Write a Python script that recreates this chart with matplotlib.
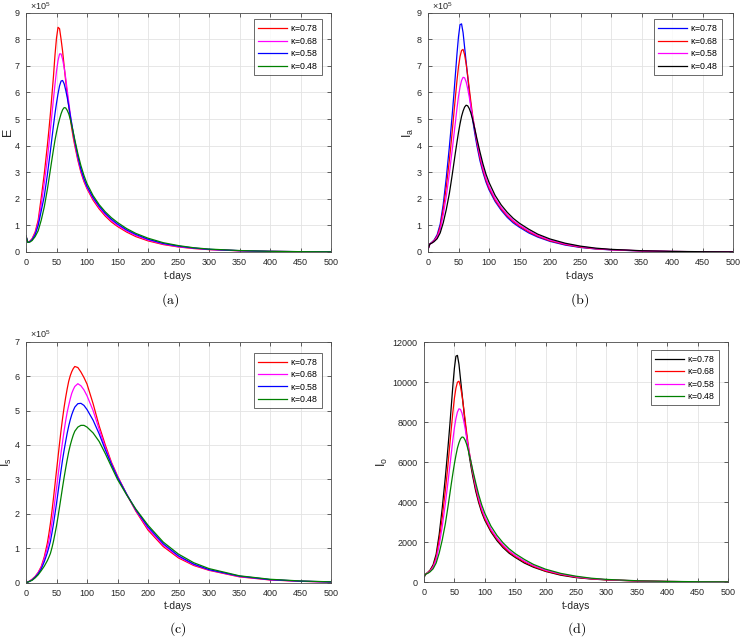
import matplotlib
matplotlib.use('Agg')
import matplotlib.pyplot as plt
import numpy as np

plt.rcParams['font.family'] = ['Liberation Sans', 'DejaVu Sans']
plt.rcParams['mathtext.default'] = 'regular'

# time points (days)
t = [0, 3, 6, 10, 15, 20, 25, 30,
     35, 37.5, 40, 42.5, 45, 47.5, 50, 52.5, 55, 57.5, 60, 62.5, 65, 67.5, 70, 72.5, 75, 77.5, 80,
     85, 90, 95, 100, 110, 120, 130, 140, 150, 165, 180, 200, 225, 250, 275, 300, 350, 400, 450, 500]

kappa_labels = [r'$\kappa$=0.78', r'$\kappa$=0.68', r'$\kappa$=0.58', r'$\kappa$=0.48']

# (a) E, in units of 1e5
E_078 = [0.6, 0.36, 0.4, 0.5, 0.75, 1.2, 2.05, 2.95,
         4.0, 4.58, 5.2, 5.9, 6.6, 7.4, 8.05, 8.45, 8.4, 8.0, 7.55, 7.0, 6.45, 5.95, 5.5, 5.05, 4.65, 4.3, 4.0,
         3.45, 3.0, 2.65, 2.38, 1.95, 1.62, 1.35, 1.13, 0.96, 0.75, 0.58, 0.42, 0.28, 0.19, 0.13, 0.09, 0.045, 0.022, 0.011, 0.005]
E_068 = [0.6, 0.36, 0.39, 0.48, 0.7, 1.1, 1.8, 2.6,
         3.5, 4.03, 4.6, 5.18, 5.75, 6.3, 6.8, 7.2, 7.45, 7.45, 7.25, 6.95, 6.55, 6.1, 5.65, 5.2, 4.8, 4.43, 4.1,
         3.52, 3.05, 2.7, 2.42, 2.0, 1.67, 1.4, 1.18, 1.0, 0.79, 0.62, 0.45, 0.3, 0.2, 0.14, 0.095, 0.048, 0.023, 0.011, 0.005]
E_058 = [0.6, 0.36, 0.38, 0.46, 0.65, 1.0, 1.55, 2.1,
         2.9, 3.35, 3.8, 4.28, 4.75, 5.2, 5.6, 5.95, 6.25, 6.43, 6.45, 6.33, 6.1, 5.82, 5.5, 5.15, 4.82, 4.48, 4.17,
         3.6, 3.12, 2.76, 2.47, 2.05, 1.72, 1.45, 1.23, 1.05, 0.83, 0.66, 0.48, 0.32, 0.22, 0.15, 0.1, 0.05, 0.025, 0.012, 0.006]
E_048 = [0.6, 0.36, 0.37, 0.43, 0.58, 0.8, 1.2, 1.7,
         2.35, 2.72, 3.1, 3.48, 3.85, 4.2, 4.5, 4.77, 5.0, 5.2, 5.35, 5.43, 5.42, 5.33, 5.2, 5.0, 4.75, 4.5, 4.22,
         3.7, 3.25, 2.88, 2.57, 2.12, 1.78, 1.51, 1.29, 1.11, 0.88, 0.7, 0.52, 0.35, 0.24, 0.16, 0.11, 0.055, 0.027, 0.013, 0.006]

# (b) Ia, in units of 1e5
Ia_078 = [0.1, 0.3, 0.36, 0.45, 0.65, 1.05, 1.8, 2.8,
          3.95, 4.58, 5.25, 5.95, 6.7, 7.45, 8.1, 8.55, 8.58, 8.25, 7.7, 7.15, 6.6, 6.05, 5.55, 5.1, 4.7, 4.35, 4.02,
          3.45, 3.0, 2.63, 2.34, 1.9, 1.57, 1.3, 1.09, 0.93, 0.72, 0.56, 0.4, 0.26, 0.17, 0.115, 0.08, 0.038, 0.018, 0.009, 0.004]
Ia_068 = [0.1, 0.3, 0.35, 0.43, 0.6, 0.95, 1.6, 2.45,
          3.45, 4.0, 4.6, 5.23, 5.85, 6.45, 6.97, 7.35, 7.58, 7.62, 7.42, 7.08, 6.65, 6.17, 5.7, 5.25, 4.85, 4.48, 4.15,
          3.55, 3.08, 2.7, 2.4, 1.95, 1.62, 1.35, 1.14, 0.97, 0.76, 0.59, 0.42, 0.28, 0.18, 0.12, 0.085, 0.04, 0.019, 0.009, 0.004]
Ia_058 = [0.1, 0.3, 0.34, 0.41, 0.56, 0.85, 1.4, 2.1,
          2.95, 3.42, 3.9, 4.4, 4.9, 5.4, 5.85, 6.2, 6.45, 6.57, 6.55, 6.4, 6.15, 5.85, 5.5, 5.17, 4.85, 4.53, 4.22,
          3.65, 3.17, 2.78, 2.47, 2.01, 1.67, 1.4, 1.18, 1.01, 0.8, 0.62, 0.45, 0.3, 0.2, 0.13, 0.09, 0.043, 0.02, 0.01, 0.005]
Ia_048 = [0.1, 0.3, 0.33, 0.39, 0.5, 0.72, 1.1, 1.6,
          2.2, 2.57, 2.95, 3.35, 3.75, 4.13, 4.5, 4.82, 5.1, 5.3, 5.45, 5.52, 5.5, 5.4, 5.25, 5.04, 4.8, 4.55, 4.28,
          3.78, 3.32, 2.93, 2.62, 2.13, 1.77, 1.49, 1.26, 1.08, 0.86, 0.67, 0.49, 0.33, 0.22, 0.145, 0.1, 0.048, 0.023, 0.011, 0.005]

# (c) Is, in units of 1e5
Is_078 = [0, 0.02, 0.05, 0.1, 0.18, 0.3, 0.47, 0.75,
          1.15, 1.42, 1.72, 2.07, 2.45, 2.85, 3.25, 3.65, 4.05, 4.43, 4.78, 5.1, 5.38, 5.63, 5.85, 6.01, 6.13, 6.22, 6.28,
          6.25, 6.12, 5.96, 5.77, 5.2, 4.55, 4.0, 3.5, 3.1, 2.57, 2.08, 1.53, 1.05, 0.72, 0.5, 0.36, 0.17, 0.08, 0.04, 0.02]
Is_068 = [0, 0.02, 0.05, 0.09, 0.17, 0.29, 0.44, 0.7,
          1.02, 1.22, 1.45, 1.74, 2.05, 2.4, 2.75, 3.1, 3.45, 3.78, 4.1, 4.42, 4.7, 4.95, 5.15, 5.34, 5.5, 5.61, 5.7,
          5.78, 5.72, 5.6, 5.43, 5.0, 4.45, 3.93, 3.47, 3.08, 2.57, 2.1, 1.57, 1.09, 0.75, 0.52, 0.37, 0.18, 0.085, 0.042, 0.02]
Is_058 = [0, 0.02, 0.04, 0.08, 0.16, 0.26, 0.4, 0.61,
          0.87, 1.03, 1.2, 1.44, 1.7, 2.0, 2.3, 2.62, 2.95, 3.27, 3.58, 3.85, 4.1, 4.34, 4.55, 4.73, 4.88, 5.0, 5.1,
          5.2, 5.21, 5.15, 5.03, 4.72, 4.32, 3.86, 3.44, 3.06, 2.57, 2.12, 1.62, 1.13, 0.78, 0.54, 0.38, 0.19, 0.09, 0.045, 0.022]
Is_048 = [0, 0.02, 0.04, 0.07, 0.14, 0.23, 0.35, 0.48,
          0.64, 0.74, 0.85, 1.01, 1.2, 1.42, 1.65, 1.92, 2.2, 2.49, 2.78, 3.06, 3.32, 3.57, 3.8, 3.99, 4.15, 4.29, 4.4,
          4.52, 4.57, 4.57, 4.52, 4.35, 4.1, 3.75, 3.37, 3.0, 2.55, 2.14, 1.67, 1.18, 0.83, 0.58, 0.41, 0.2, 0.1, 0.05, 0.025]

# (d) Io
Io_078 = [250, 400, 475, 595, 860, 1390, 2380, 3700,
          5210, 6050, 6930, 7850, 8840, 9830, 10690, 11290, 11330, 10890, 10160, 9440, 8710, 7990, 7330, 6730, 6200, 5740, 5310,
          4550, 3960, 3470, 3090, 2510, 2070, 1720, 1440, 1230, 950, 740, 530, 340, 220, 150, 105, 50, 24, 12, 5]
Io_068 = [250, 400, 460, 570, 790, 1250, 2110, 3230,
          4550, 5270, 6060, 6890, 7710, 8500, 9190, 9690, 9990, 10040, 9780, 9330, 8760, 8130, 7510, 6920, 6390, 5900, 5470,
          4680, 4060, 3560, 3160, 2570, 2140, 1780, 1500, 1280, 1000, 780, 550, 370, 240, 160, 110, 53, 25, 12, 5]
Io_058 = [250, 400, 450, 540, 740, 1120, 1850, 2770,
          3890, 4510, 5140, 5800, 6460, 7120, 7710, 8170, 8500, 8660, 8630, 8440, 8110, 7710, 7250, 6810, 6390, 5970, 5560,
          4810, 4180, 3660, 3260, 2650, 2200, 1850, 1560, 1330, 1050, 820, 590, 400, 260, 170, 120, 57, 26, 13, 6]
Io_048 = [250, 400, 430, 510, 660, 950, 1450, 2100,
          2890, 3380, 3880, 4400, 4930, 5430, 5910, 6330, 6700, 6960, 7160, 7250, 7230, 7100, 6900, 6620, 6310, 5980, 5620,
          4970, 4360, 3850, 3440, 2800, 2330, 1960, 1660, 1420, 1130, 880, 640, 430, 290, 190, 130, 63, 30, 14, 7]

RED = '#ff0000'
MAG = '#ff00ff'
BLUE = '#0000ff'
GREEN = '#008000'
BLACK = '#000000'

fig = plt.figure(figsize=(7.4, 6.39), dpi=100)

panels = [
    # box (px), series, colours, ymax, yticks, ylabel, ylabel x (px), legend corner (px), caption (px), caption, x10^5
    ([26, 12.7, 331, 252], [E_078, E_068, E_058, E_048], [RED, MAG, BLUE, GREEN],
     9, np.arange(0, 10, 1), 'E', 8, (322, 19.3), (170, 300), '(a)', True),
    ([428, 12.7, 733, 252], [Ia_078, Ia_068, Ia_058, Ia_048], [BLUE, RED, MAG, BLACK],
     9, np.arange(0, 10, 1), 'I$_a$', 408, (722, 19.3), (580, 300), '(b)', True),
    ([26, 341.7, 331, 582.7], [Is_078, Is_068, Is_058, Is_048], [RED, MAG, BLUE, GREEN],
     7, np.arange(0, 8, 1), 'I$_s$', 6, (322, 352.7), (178, 629), '(c)', True),
    ([424, 342, 728, 582], [Io_078, Io_068, Io_058, Io_048], [BLACK, RED, MAG, GREEN],
     12000, np.arange(0, 12001, 2000), 'I$_o$', 382, (719.3, 350), (577, 629), '(d)', False),
]

W, H = 740.0, 639.0
for rect, series, cols, ymax, yt, ylab, ylx, leg_xy, cap_xy, cap, sci in panels:
    x0, y0, x1, y1 = rect
    ax = fig.add_axes([x0 / W, 1 - y1 / H, (x1 - x0) / W, (y1 - y0) / H])
    for s, c, lab in zip(series, cols, kappa_labels):
        ax.plot(t, s, color=c, lw=0.9, label=lab)
    ax.set_xlim(0, 500)
    ax.set_ylim(0, ymax)
    ax.set_xticks(np.arange(0, 501, 50))
    ax.set_yticks(yt)
    ax.grid(True, color='#e3e3e3', lw=0.6)
    ax.set_axisbelow(True)
    ax.tick_params(direction='in', length=3, width=0.5, labelsize=6.5, colors='#262626',
                   top=True, right=True, pad=4.5)
    for sp in ax.spines.values():
        sp.set_color('#4d4d4d')
        sp.set_linewidth(0.6)
    ax.set_xlabel('t-days', fontsize=7.5, color='#262626', labelpad=2.5)
    fig.text(ylx / W, 1 - ((y0 + y1) / 2) / H, ylab, fontsize=9, color='#262626',
             rotation=90, ha='center', va='center')
    if sci:
        ax.text(0.012, 1.005, r'$\times$10$^5$', transform=ax.transAxes, fontsize=6.5,
                color='#262626', ha='left', va='bottom')
    leg = ax.legend(loc='upper right', bbox_to_anchor=(leg_xy[0] / W, 1 - leg_xy[1] / H),
                    bbox_transform=fig.transFigure, fontsize=6.3, frameon=True, fancybox=False,
                    edgecolor='#262626', handlelength=3.3, handletextpad=0.35,
                    labelspacing=0.28, borderpad=0.45, borderaxespad=0)
    leg.get_frame().set_linewidth(0.6)
    fig.text(cap_xy[0] / W, 1 - cap_xy[1] / H, r'$\mathrm{' + cap + '}$', math_fontfamily='cm',
             fontsize=10, ha='center', va='center')

fig.savefig('out.png', dpi=100)
